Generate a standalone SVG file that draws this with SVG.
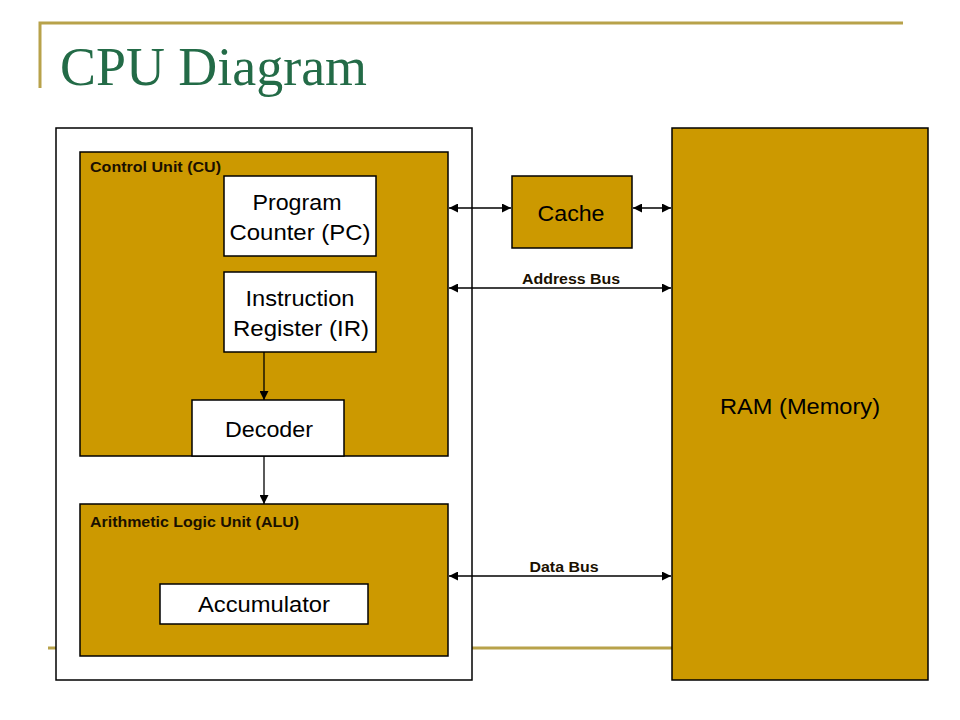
<svg xmlns="http://www.w3.org/2000/svg" width="960" height="720" viewBox="0 0 960 720">
<defs>
<style>
.gold{fill:#CC9900;stroke:#000;stroke-width:1.5}
.white{fill:#fff;stroke:#000;stroke-width:1.5}
.deco{stroke:#B8A24A;stroke-width:3;fill:none}
.lbl{font-family:"Liberation Sans",Arial,sans-serif;font-size:22px;fill:#000;text-anchor:middle}
.small{font-family:"Liberation Sans",Arial,sans-serif;font-size:14.5px;font-weight:bold;fill:#1a1000}
.conn{stroke:#000;stroke-width:1.3;fill:none}
</style>
<marker id="ah" viewBox="0 0 10 10" refX="10" refY="5" markerWidth="9" markerHeight="9" markerUnits="userSpaceOnUse" orient="auto-start-reverse">
<path d="M0,0 L10,5 L0,10 z" fill="#000"/>
</marker>
</defs>
<rect width="960" height="720" fill="#fff"/>
<g id="decoration">
<path class="deco" d="M40,88 V23 H903"/>
<line class="deco" x1="48" y1="648" x2="672" y2="648"/>
</g>
<text x="60" y="85" font-family="'Liberation Serif','Times New Roman',serif" font-size="54" fill="#236B47" textLength="307" lengthAdjust="spacingAndGlyphs">CPU Diagram</text>
<g id="cpu">
<rect x="56" y="128" width="416" height="552" fill="#fff" stroke="#000" stroke-width="1.5"/>
</g>
<g id="control-unit">
<rect class="gold" x="80" y="152" width="368" height="304"/>
<text class="small" x="90" y="172" textLength="131" lengthAdjust="spacingAndGlyphs">Control Unit (CU)</text>
</g>
<g id="program-counter">
<rect class="white" x="224" y="176" width="152" height="80"/>
<text class="lbl" x="297" y="210" textLength="89" lengthAdjust="spacingAndGlyphs">Program</text>
<text class="lbl" x="300" y="240" textLength="141" lengthAdjust="spacingAndGlyphs">Counter (PC)</text>
</g>
<g id="instruction-register">
<rect class="white" x="224" y="272" width="152" height="80"/>
<text class="lbl" x="300" y="306" textLength="109" lengthAdjust="spacingAndGlyphs">Instruction</text>
<text class="lbl" x="301" y="336" textLength="136" lengthAdjust="spacingAndGlyphs">Register (IR)</text>
</g>
<g id="decoder">
<rect class="white" x="192" y="400" width="152" height="56"/>
<text class="lbl" x="269" y="437" textLength="88" lengthAdjust="spacingAndGlyphs">Decoder</text>
</g>
<g id="alu">
<rect class="gold" x="80" y="504" width="368" height="152"/>
<text class="small" x="90" y="527" textLength="209" lengthAdjust="spacingAndGlyphs">Arithmetic Logic Unit (ALU)</text>
</g>
<g id="accumulator">
<rect class="white" x="160" y="584" width="208" height="40"/>
<text class="lbl" x="264" y="612" textLength="132" lengthAdjust="spacingAndGlyphs">Accumulator</text>
</g>
<g id="cache">
<rect class="gold" x="512" y="176" width="120" height="72"/>
<text class="lbl" x="571" y="221" textLength="67" lengthAdjust="spacingAndGlyphs">Cache</text>
</g>
<g id="ram">
<rect class="gold" x="672" y="128" width="256" height="552"/>
<text class="lbl" x="800" y="414" textLength="160" lengthAdjust="spacingAndGlyphs">RAM (Memory)</text>
</g>
<g id="connectors">
<line class="conn" x1="264" y1="352" x2="264" y2="400" marker-end="url(#ah)"/>
<line class="conn" x1="264" y1="456" x2="264" y2="504" marker-end="url(#ah)"/>
<line class="conn" x1="449" y1="208" x2="511" y2="208" marker-start="url(#ah)" marker-end="url(#ah)"/>
<line class="conn" x1="633" y1="208" x2="671" y2="208" marker-start="url(#ah)" marker-end="url(#ah)"/>
<line class="conn" x1="449" y1="288" x2="671" y2="288" marker-start="url(#ah)" marker-end="url(#ah)"/>
<line class="conn" x1="449" y1="576" x2="671" y2="576" marker-start="url(#ah)" marker-end="url(#ah)"/>
<text class="small" x="571" y="284" text-anchor="middle" textLength="98" lengthAdjust="spacingAndGlyphs">Address Bus</text>
<text class="small" x="564" y="572" text-anchor="middle" textLength="69" lengthAdjust="spacingAndGlyphs">Data Bus</text>
</g>
</svg>
